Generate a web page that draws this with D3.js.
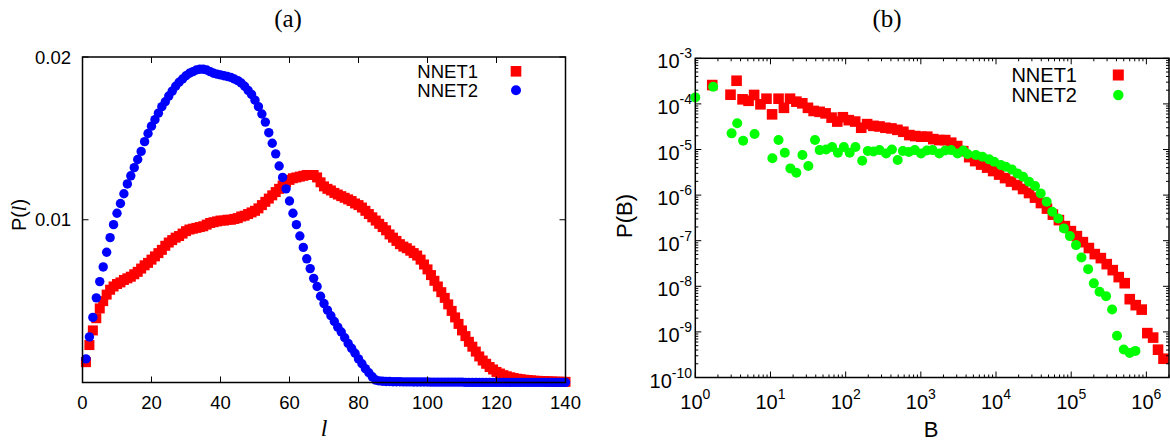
<!DOCTYPE html>
<html>
<head>
<meta charset="utf-8">
<script src="https://d3js.org/d3.v7.min.js"></script>
<style>
  body { margin: 0; background: #fff; }
  text { font-family: 'Liberation Sans', Arial, sans-serif; fill: #000; }
  .serif { font-family: 'Liberation Serif', 'DejaVu Serif', serif; }
</style>
</head>
<body>
<div id="chart"></div>
<script>
// panel (a): P(l) against path length l = 1..140
const lengths = d3.range(1, 141)
const nnet1L = [
  .00125, .0023, .0032, .00395, .00455, .005, .0054, .0057, .0059, .00605,
  .00615, .0063, .0064, .0065, .00665, .0068, .007, .0072, .00735, .00755,
  .00775, .00795, .00815, .0084, .0086, .00875, .0089, .009, .00915, .0093,
  .0094, .00945, .0095, .00955, .0096, .0097, .0098, .00985, .0099, .00995,
  .00995, .01, .01, .01005, .0101, .0102, .01025, .01035, .01045, .01055,
  .0107, .0109, .0111, .0113, .0115, .0117, .0119, .0121, .0123, .01245,
  .01255, .0126, .01265, .0127, .01275, .01275, .01275, .0126, .0123, .01205,
  .0119, .0118, .01165, .01155, .01145, .01135, .01125, .01115, .011, .0109,
  .01075, .01055, .01035, .01015, .00995, .00975, .00955, .00935, .0091, .0089,
  .0087, .0085, .00835, .00825, .0081, .00795, .0078, .00755, .00725, .00695,
  .0066, .00625, .0059, .00555, .0052, .0048, .0044, .004, .0036, .0032,
  .00285, .0025, .0022, .0019, .0016, .00135, .00115, .00095, .0008, .00065,
  .00055, .00045, .00038, .00032, .00027, .00023, .0002, .00017, .00015, .00013,
  .00011, .0001, .00009, .00008, .00007, .00006, .00005, .00005, .00004, .00004
]
const nnet2L = [
  .00145, .0028, .004, .0052, .0062, .0071, .008, .0089, .0097, .0104,
  .011, .0116, .0122, .0127, .0132, .0137, .0142, .0148, .0153, .01575,
  .01615, .01655, .01695, .01725, .0176, .0179, .0182, .01845, .01865, .01885,
  .019, .0191, .0192, .01925, .01925, .0192, .0191, .019, .01895, .0189,
  .01885, .0188, .01875, .01865, .01855, .0184, .0182, .01795, .0177, .01735,
  .01695, .0165, .016, .01535, .0147, .01405, .0133, .0126, .0119, .01115,
  .0104, .0097, .009, .0083, .0076, .007, .0064, .0059, .0053, .00485,
  .00445, .0041, .00375, .0034, .0031, .00275, .0024, .0021, .0018, .00145,
  .00115, .00085, .0006, .00035, .00015, .0001, .00008, .00006, .00006, .00005,
  .00005, .00005, .00004, .00004, .00004, .00003, .00003, .00003, .00003, .00003,
  .00002, .00002, .00002, .00002, .00002, .00002, .00002, .00002, .00002, .00002,
  .00001, .00001, .00001, .00001, .00001, .00001, .00001, .00001, .00001, .00001,
  .00001, .00001, .00001, .00001, .00001, .00001, .00001, .00001, .00001, .00001,
  .00001, .00001, .00001, .00001, .00001, .00001, .00001, .00001, .00001, .00001
]
const ticksL = [0, 20, 40, 60, 80, 100, 120, 140]
const ticksPL = [0.01, 0.02]

// panel (b): P(B)
const nnet1B = [
  1.68, 2.94, 3.54, 4.25, 5.11, 6.06, 7.36, 8.85, 10.5, 12.8,
  15.1, 18.2, 22.1, 26.5, 31.5, 37.5, 45.1, 54.1, 65.0, 77.4,
  91.8, 110, 134, 161, 193, 234, 282, 338, 406, 488,
  586, 704, 845, 1014, 1219, 1463, 1758, 2113, 2536, 3048,
  3664, 4395, 5284, 6340, 7620, 9160, 1.10e4, 1.32e4, 1.58e4, 1.91e4,
  2.29e4, 2.75e4, 3.30e4, 3.96e4, 4.76e4, 5.71e4, 6.87e4, 8.24e4, 9.91e4, 1.19e5,
  1.43e5, 1.72e5, 2.06e5, 2.48e5, 2.97e5, 3.57e5, 4.29e5, 5.15e5, 6.01e5, 7.22e5,
  8.67e5, 1.03e6, 1.23e6, 1.43e6, 1.69e6
]
const nnet1PB = [
  2.59e-4, 1.59e-4, 3.22e-4, 1.26e-4, 1.17e-4, 1.57e-4, 9.8e-5, 1.30e-4, 5.9e-5, 1.30e-4,
  8.2e-5, 1.30e-4, 1.12e-4, 1.03e-4, 8.2e-5, 7.0e-5, 6.7e-5, 6.2e-5, 5.0e-5, 4.1e-5,
  5.1e-5, 4.4e-5, 4.1e-5, 3.0e-5, 3.6e-5, 3.3e-5, 3.2e-5, 3.0e-5, 2.9e-5, 2.7e-5,
  2.45e-5, 2.07e-5, 1.97e-5, 1.91e-5, 1.91e-5, 1.69e-5, 1.61e-5, 1.61e-5, 1.41e-5, 1.19e-5,
  9.2e-6, 6.8e-6, 5.57e-6, 4.67e-6, 4.01e-6, 3.37e-6, 2.82e-6, 2.36e-6, 1.98e-6, 1.66e-6,
  1.36e-6, 1.11e-6, 8.8e-7, 6.7e-7, 5.06e-7, 3.73e-7, 2.83e-7, 2.09e-7, 1.62e-7, 1.26e-7,
  9.3e-8, 6.9e-8, 5.08e-8, 4.15e-8, 3.06e-8, 2.26e-8, 1.59e-8, 1.17e-8, 5.22e-9, 3.86e-9,
  3.08e-9, 9.4e-10, 7.5e-10, 4.07e-10, 2.58e-10
]
const nnet2B = [
  1, 1.73, 3.04, 3.61, 4.33, 6.14, 10.6, 12.8, 15.5, 18.4,
  22.1, 26.6, 31.9, 39.1, 45.1, 55.0, 66.1, 78.8, 94.6, 113,
  135, 166, 197, 234, 282, 345, 412, 492, 577, 693,
  832, 1007, 1202, 1433, 1759, 2113, 2536, 3076, 3664, 4176,
  5400, 6600, 8100, 9440, 1.16e4, 1.35e4, 1.62e4, 1.92e4, 2.29e4, 2.75e4,
  3.30e4, 3.93e4, 4.72e4, 5.60e4, 6.73e4, 8.00e4, 9.61e4, 1.16e5, 1.37e5, 1.68e5,
  2.00e5, 2.38e5, 2.91e5, 3.50e5, 4.07e5, 5.00e5, 6.00e5, 7.15e5
]
const nnet2PB = [
  1.39e-4, 2.38e-4, 2.26e-5, 3.75e-5, 1.56e-5, 2.18e-5, 6.4e-6, 1.61e-5, 8.5e-6, 3.85e-6,
  3.09e-6, 7.55e-6, 4.34e-6, 1.61e-5, 9.7e-6, 9.98e-6, 1.13e-5, 8.5e-6, 1.13e-5, 8.5e-6,
  1.13e-5, 5.67e-6, 9.25e-6, 9.0e-6, 9.7e-6, 8.2e-6, 9.97e-6, 5.87e-6, 9.25e-6, 8.8e-6,
  9.7e-6, 8.2e-6, 9.5e-6, 9.7e-6, 8.2e-6, 9.5e-6, 9.7e-6, 8.2e-6, 9.5e-6, 7.94e-6,
  7.55e-6, 6.93e-6, 6.08e-6, 5.38e-6, 4.56e-6, 4.18e-6, 3.66e-6, 2.99e-6, 2.52e-6, 1.96e-6,
  1.58e-6, 1.09e-6, 7.13e-7, 4.30e-7, 3.08e-7, 1.86e-7, 1.26e-7, 8.0e-8, 4.30e-8, 2.38e-8,
  1.16e-8, 7.56e-9, 6.08e-9, 3.10e-9, 8.2e-10, 4.11e-10, 3.46e-10, 3.83e-10
]
const seriesNames = ['NNET1', 'NNET2']

const svg = d3.select('#chart').append('svg')
  .attr('width', 1170)
  .attr('height', 444)
  .style('display', 'block')

// ---------- panel (a) ----------
const xa = d3.scaleLinear().domain([0, 140]).range([82.5, 565.5])
const ya = d3.scaleLinear().domain([0, 0.02]).range([382.5, 57])
const ga = svg.append('g')

ga.append('text').attr('class', 'serif')
  .attr('x', 288).attr('y', 27)
  .attr('text-anchor', 'middle')
  .style('font-size', '25px')
  .text('(a)')

ga.append('g').selectAll('rect')
  .data(nnet1L)
  .join('rect')
  .attr('x', (d, i) => xa(lengths[i]) - 5)
  .attr('y', d => ya(d) - 5)
  .attr('width', 10).attr('height', 10)
  .style('fill', '#ff0000')

ga.append('g').selectAll('circle')
  .data(nnet2L)
  .join('circle')
  .attr('cx', (d, i) => xa(lengths[i]))
  .attr('cy', d => ya(d))
  .attr('r', 4.7)
  .style('fill', '#0000ff')

// ticks, inward on all four sides
const ticksA = ga.append('g').style('stroke', '#000').style('stroke-width', 1)
ticksA.selectAll('line.xb').data(ticksL).join('line')
  .attr('x1', d => xa(d)).attr('x2', d => xa(d))
  .attr('y1', ya(0)).attr('y2', ya(0) - 6)
ticksA.selectAll('line.xt').data(ticksL).join('line')
  .attr('x1', d => xa(d)).attr('x2', d => xa(d))
  .attr('y1', ya(0.02)).attr('y2', ya(0.02) + 6)
ticksA.selectAll('line.yl').data(ticksPL).join('line')
  .attr('x1', xa(0)).attr('x2', xa(0) + 6)
  .attr('y1', d => ya(d)).attr('y2', d => ya(d))
ticksA.selectAll('line.yr').data(ticksPL).join('line')
  .attr('x1', xa(140)).attr('x2', xa(140) - 6)
  .attr('y1', d => ya(d)).attr('y2', d => ya(d))

ga.append('rect')
  .attr('x', xa(0)).attr('y', ya(0.02))
  .attr('width', xa(140) - xa(0)).attr('height', ya(0) - ya(0.02))
  .style('fill', 'none').style('stroke', '#000').style('stroke-width', 1.5)

ga.append('g').selectAll('text').data(ticksL).join('text')
  .attr('x', d => xa(d)).attr('y', 408.5)
  .attr('text-anchor', 'middle')
  .style('font-size', '18.5px')
  .text(d => d)
ga.append('g').selectAll('text').data(ticksPL).join('text')
  .attr('x', 71).attr('y', d => ya(d) + 6.5)
  .attr('text-anchor', 'end')
  .style('font-size', '18.5px')
  .text(d => d)

const laba = ga.append('text')
  .attr('transform', 'translate(26,215) rotate(-90)')
  .attr('text-anchor', 'middle')
  .style('font-size', '20px')
laba.append('tspan').text('P(')
laba.append('tspan').attr('class', 'serif').style('font-style', 'italic').text('l')
laba.append('tspan').text(')')

ga.append('text').attr('class', 'serif')
  .attr('x', 324).attr('y', 436)
  .attr('text-anchor', 'middle')
  .style('font-size', '24px').style('font-style', 'italic')
  .text('l')

// legend (a)
ga.selectAll('text.leg').data(seriesNames).join('text')
  .attr('x', 478).attr('y', (d, i) => 77.5 + i * 19.3)
  .attr('text-anchor', 'end')
  .style('font-size', '18.5px')
  .text(d => d)
ga.append('rect').attr('x', 516 - 5.3).attr('y', 71.3 - 5.3)
  .attr('width', 10.6).attr('height', 10.6).style('fill', '#ff0000')
ga.append('circle').attr('cx', 516).attr('cy', 90.3).attr('r', 5).style('fill', '#0000ff')

// ---------- panel (b) ----------
const xb = d3.scaleLog().domain([1, 2e6]).range([695.3, 1169])
const yb = d3.scaleLog().domain([1e-10, 1e-3]).range([377.5, 58.3])
const gb = svg.append('g')
const isDecade = t => Math.abs(Math.log10(t) - Math.round(Math.log10(t))) < 1e-6

gb.append('text').attr('class', 'serif')
  .attr('x', 887).attr('y', 27)
  .attr('text-anchor', 'middle')
  .style('font-size', '25px')
  .text('(b)')

gb.append('g').selectAll('rect')
  .data(nnet1PB)
  .join('rect')
  .attr('x', (d, i) => xb(nnet1B[i]) - 5.3)
  .attr('y', d => yb(d) - 5.3)
  .attr('width', 10.6).attr('height', 10.6)
  .style('fill', '#ff0000')

gb.append('g').selectAll('circle')
  .data(nnet2PB)
  .join('circle')
  .attr('cx', (d, i) => xb(nnet2B[i]))
  .attr('cy', d => yb(d))
  .attr('r', 5)
  .style('fill', '#00ff00')

const xbt = xb.ticks(), ybt = yb.ticks()
const ticksB = gb.append('g').style('stroke', '#000').style('stroke-width', 1)
const [bx0, bx1] = xb.range(), [by0, by1] = yb.range()
ticksB.selectAll('line.xb').data(xbt).join('line')
  .attr('x1', d => xb(d)).attr('x2', d => xb(d))
  .attr('y1', by0).attr('y2', d => by0 - (isDecade(d) ? 6 : 3))
ticksB.selectAll('line.xt').data(xbt).join('line')
  .attr('x1', d => xb(d)).attr('x2', d => xb(d))
  .attr('y1', by1).attr('y2', d => by1 + (isDecade(d) ? 6 : 3))
ticksB.selectAll('line.yl').data(ybt).join('line')
  .attr('x1', bx0).attr('x2', d => bx0 + (isDecade(d) ? 6 : 3))
  .attr('y1', d => yb(d)).attr('y2', d => yb(d))
ticksB.selectAll('line.yr').data(ybt).join('line')
  .attr('x1', bx1).attr('x2', d => bx1 - (isDecade(d) ? 6 : 3))
  .attr('y1', d => yb(d)).attr('y2', d => yb(d))

gb.append('rect')
  .attr('x', bx0).attr('y', by1)
  .attr('width', bx1 - bx0).attr('height', by0 - by1)
  .style('fill', 'none').style('stroke', '#000').style('stroke-width', 1.5)

const powLabel = (sel, exp) => {
  sel.text('10')
  sel.append('tspan').attr('dy', -10).style('font-size', '14px').text(exp)
}
gb.append('g').selectAll('text').data(xbt.filter(isDecade)).join('text')
  .attr('x', d => xb(d)).attr('y', 408.5)
  .attr('text-anchor', 'middle')
  .style('font-size', '20px')
  .each(function(d) { powLabel(d3.select(this), Math.round(Math.log10(d))) })
gb.append('g').selectAll('text').data(ybt.filter(isDecade)).join('text')
  .attr('x', 692).attr('y', d => yb(d) + 10)
  .attr('text-anchor', 'end')
  .style('font-size', '20px')
  .each(function(d) { powLabel(d3.select(this), Math.round(Math.log10(d))) })

gb.append('text')
  .attr('transform', 'translate(632,216) rotate(-90)')
  .attr('text-anchor', 'middle')
  .style('font-size', '22px')
  .text('P(B)')
gb.append('text')
  .attr('x', 931).attr('y', 437)
  .attr('text-anchor', 'middle')
  .style('font-size', '22px')
  .text('B')

// legend (b)
gb.selectAll('text.leg').data(seriesNames).join('text')
  .attr('x', 1077).attr('y', (d, i) => 81.7 + i * 20.6)
  .attr('text-anchor', 'end')
  .style('font-size', '20px')
  .text(d => d)
gb.append('rect').attr('x', 1118.3 - 5.5).attr('y', 75 - 5.5)
  .attr('width', 11).attr('height', 11).style('fill', '#ff0000')
gb.append('circle').attr('cx', 1118.3).attr('cy', 95).attr('r', 5.2).style('fill', '#00ff00')
</script>
</body>
</html>
